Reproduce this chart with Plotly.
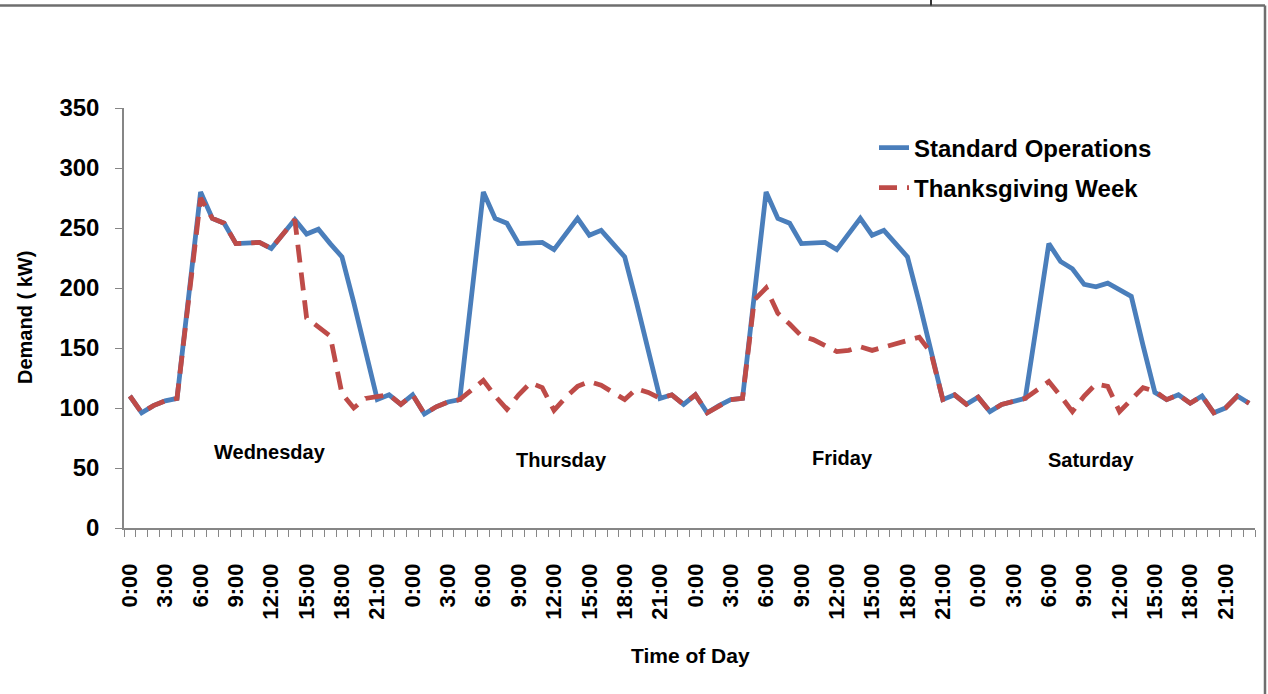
import plotly.graph_objects as go

# Hourly demand (kW) for each day, 0:00 .. 23:00
days = ["Wednesday", "Thursday", "Friday", "Saturday"]
hour_labels = [f"{h}:00" for h in range(24)]

std_wed = [110, 96, 102, 106, 108, 194, 280, 258, 254, 237, 238, 238,
           233, 245, 257, 245, 249, 237, 226, 188, 146, 107, 111, 103]
std_thu = [111, 95, 101, 105, 107, 194, 280, 258, 254, 237, 238, 238,
           232, 245, 258, 244, 248, 237, 226, 188, 146, 108, 111, 103]
std_fri = [111, 96, 102, 107, 108, 194, 280, 258, 254, 237, 238, 238,
           232, 245, 258, 244, 248, 237, 226, 188, 146, 107, 111, 103]
std_sat = [109, 97, 103, 106, 108, 172, 237, 222, 216, 203, 201, 204,
           199, 193, 152, 113, 107, 111, 104, 110, 96, 100, 110, 104]

tg_wed = [110, 96, 102, 106, 108, 192, 275, 258, 254, 237, 238, 238,
          233, 245, 257, 175, 168, 160, 112, 100, 108, 110, 111, 103]
tg_thu = [111, 95, 101, 105, 107, 115, 123, 110, 99, 111, 121, 117,
          98, 109, 118, 122, 119, 113, 107, 116, 113, 108, 111, 103]
tg_fri = [111, 96, 102, 107, 108, 190, 200, 179, 170, 160, 157, 152,
          147, 148, 151, 148, 151, 154, 156, 159, 146, 107, 111, 103]
tg_sat = [109, 97, 103, 106, 108, 115, 122, 110, 97, 110, 120, 118,
          97, 107, 117, 114, 107, 111, 104, 110, 96, 100, 110, 104]

# Day captions: hour-index position and demand level
day_caption_x = [11.9, 36.6, 60.5, 81.6]
day_caption_y = [63, 57, 58, 57]

y_ticks = [0, 50, 100, 150, 200, 250, 300, 350]

standard = std_wed + std_thu + std_fri + std_sat
thanksgiving = tg_wed + tg_thu + tg_fri + tg_sat
n = len(standard)
x_idx = list(range(n))
x_text = hour_labels * len(days)

BLUE = "#4A7EBB"
RED = "#BE4B48"
AXIS = "#868686"
FONT = "Liberation Sans"

fig = go.Figure()
fig.add_trace(go.Scatter(
    x=x_idx, y=standard, mode="lines", name="Standard Operations",
    line=dict(color=BLUE, width=4.8), legend="legend",
))
fig.add_trace(go.Scatter(
    x=x_idx, y=thanksgiving, mode="lines", name="Thanksgiving Week",
    line=dict(color=RED, width=4.8, dash="18px,10px"), legend="legend2",
))

label_idx = [i for i in x_idx if i % 3 == 0]
fig.update_xaxes(
    range=[-0.5, n - 0.5],
    tickmode="array", tickvals=label_idx, ticktext=[x_text[i] for i in label_idx],
    tickangle=-90, ticks="", ticklabelstandoff=25,
    tickfont=dict(family=FONT, size=22, color="black", weight="bold"),
    showline=True, linecolor=AXIS, linewidth=1.5,
    showgrid=False, zeroline=False,
    minor=dict(tickmode="array", tickvals=[i - 0.5 for i in range(n + 1)],
               ticks="outside", ticklen=7, tickcolor=AXIS, tickwidth=1,
               showgrid=False),
)
fig.update_yaxes(
    range=[0, 350], tickmode="array", tickvals=y_ticks,
    ticks="outside", ticklen=7, tickcolor=AXIS, tickwidth=1,
    ticklabelstandoff=11,
    tickfont=dict(family=FONT, size=24, color="black", weight="bold"),
    showline=True, linecolor=AXIS, linewidth=1.5,
    showgrid=False, zeroline=False,
)

for name, cx, cy in zip(days, day_caption_x, day_caption_y):
    fig.add_annotation(x=cx, y=cy, xref="x", yref="y", text=name, showarrow=False,
                       font=dict(family=FONT, size=20, color="black", weight="bold"))

# axis titles
fig.add_annotation(x=(25 - 124) / 1131, y=(528 - 318) / 420, xref="paper", yref="paper",
                   xanchor="center", yanchor="middle", text="Demand ( kW)",
                   textangle=-90, showarrow=False,
                   font=dict(family=FONT, size=20, color="black", weight="bold"))
fig.add_annotation(x=(690 - 124) / 1131, y=(528 - 655) / 420, xref="paper", yref="paper",
                   xanchor="center", yanchor="middle", text="Time of Day",
                   showarrow=False,
                   font=dict(family=FONT, size=21, color="black", weight="bold"))

legend_font = dict(family=FONT, size=24, color="black", weight="bold")
fig.update_layout(
    width=1268, height=694,
    margin=dict(l=124, r=13, t=108, b=166),
    paper_bgcolor="white", plot_bgcolor="white",
    showlegend=True,
    legend=dict(x=(874 - 124) / 1131, y=(528 - 148) / 420, xanchor="left", yanchor="middle",
                font=legend_font, bgcolor="rgba(0,0,0,0)"),
    legend2=dict(x=(874 - 124) / 1131, y=(528 - 188) / 420, xanchor="left", yanchor="middle",
                 font=legend_font, bgcolor="rgba(0,0,0,0)"),
)

# outer frame (top and right edges)
def px_x(px):
    return (px - 124) / 1131

def px_y(py):
    return (528 - py) / 420

frame = dict(color="#6E6E6E", width=2.5)
fig.add_shape(type="line", xref="paper", yref="paper",
              x0=px_x(0), x1=px_x(1265), y0=px_y(5.5), y1=px_y(5.5), line=frame)
fig.add_shape(type="line", xref="paper", yref="paper",
              x0=px_x(1265), x1=px_x(1265), y0=px_y(5.5), y1=px_y(694), line=frame)
fig.add_shape(type="line", xref="paper", yref="paper",
              x0=px_x(931), x1=px_x(931), y0=px_y(0), y1=px_y(5.5),
              line=dict(color="#333333", width=2))

fig.write_html("out.html")
